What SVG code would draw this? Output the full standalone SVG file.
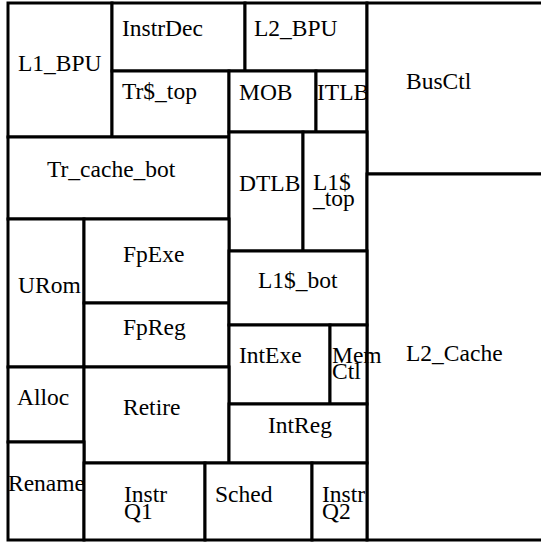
<svg xmlns="http://www.w3.org/2000/svg" width="541" height="542" viewBox="0 0 541 542">
<style>
rect{fill:#fff;stroke:#000;stroke-width:3}
.t{font-family:'Liberation Serif','Times New Roman',Times,'DejaVu Serif',serif;font-size:23.5px;fill:#000}
</style>
<rect x="0" y="0" width="541" height="542" style="stroke:none"/>
<g id="connectors"></g>
<g class="t" font-family="Liberation Serif, Times New Roman, serif">
<g id="L1_BPU"><rect x="8" y="3" width="104" height="134"/><text x="18" y="71">L1_BPU</text></g>
<g id="InstrDec"><rect x="112" y="3" width="133" height="68"/><text x="122" y="36">InstrDec</text></g>
<g id="L2_BPU"><rect x="245" y="3" width="122" height="68"/><text x="254" y="36">L2_BPU</text></g>
<g id="Tr_top"><rect x="112" y="71" width="117" height="66"/><text x="122" y="99">Tr$_top</text></g>
<g id="MOB"><rect x="229" y="71" width="87" height="61"/><text x="239" y="100">MOB</text></g>
<g id="ITLB"><rect x="316" y="71" width="51" height="61"/><text x="317" y="100">ITLB</text></g>
<g id="BusCtl"><rect x="367" y="3" width="180" height="171"/><text x="406" y="89">BusCtl</text></g>
<g id="Tr_cache_bot"><rect x="8" y="137" width="221" height="82"/><text x="47" y="177">Tr_cache_bot</text></g>
<g id="DTLB"><rect x="229" y="132" width="74" height="119"/><text x="239" y="191">DTLB</text></g>
<g id="L1_top"><rect x="303" y="132" width="64" height="119"/><text x="313" y="190">L1$</text><text x="313" y="206">_top</text></g>
<g id="L2_Cache"><rect x="367" y="174" width="180" height="366"/><text x="406" y="361">L2_Cache</text></g>
<g id="URom"><rect x="8" y="219" width="76" height="148"/><text x="18" y="293">URom</text></g>
<g id="FpExe"><rect x="84" y="219" width="145" height="84"/><text x="123" y="262">FpExe</text></g>
<g id="FpReg"><rect x="84" y="303" width="145" height="64"/><text x="123" y="335">FpReg</text></g>
<g id="L1_bot"><rect x="229" y="251" width="138" height="74"/><text x="258" y="288">L1$_bot</text></g>
<g id="IntExe"><rect x="229" y="325" width="101" height="79"/><text x="239" y="363">IntExe</text></g>
<g id="MemCtl"><rect x="330" y="325" width="37" height="79"/><text x="332" y="363">Mem</text><text x="332" y="379">Ctl</text></g>
<g id="Alloc"><rect x="8" y="367" width="76" height="75"/><text x="17" y="405">Alloc</text></g>
<g id="Retire"><rect x="84" y="367" width="145" height="96"/><text x="123" y="415">Retire</text></g>
<g id="IntReg"><rect x="229" y="404" width="138" height="59"/><text x="268" y="433">IntReg</text></g>
<g id="Rename"><rect x="8" y="442" width="76" height="98"/><text x="8" y="491">Rename</text></g>
<g id="InstrQ1"><rect x="84" y="463" width="121" height="77"/><text x="124" y="502">Instr</text><text x="124" y="519">Q1</text></g>
<g id="Sched"><rect x="205" y="463" width="107" height="77"/><text x="215" y="502">Sched</text></g>
<g id="InstrQ2"><rect x="312" y="463" width="55" height="77"/><text x="322" y="502">Instr</text><text x="322" y="519">Q2</text></g>
</g>
</svg>
